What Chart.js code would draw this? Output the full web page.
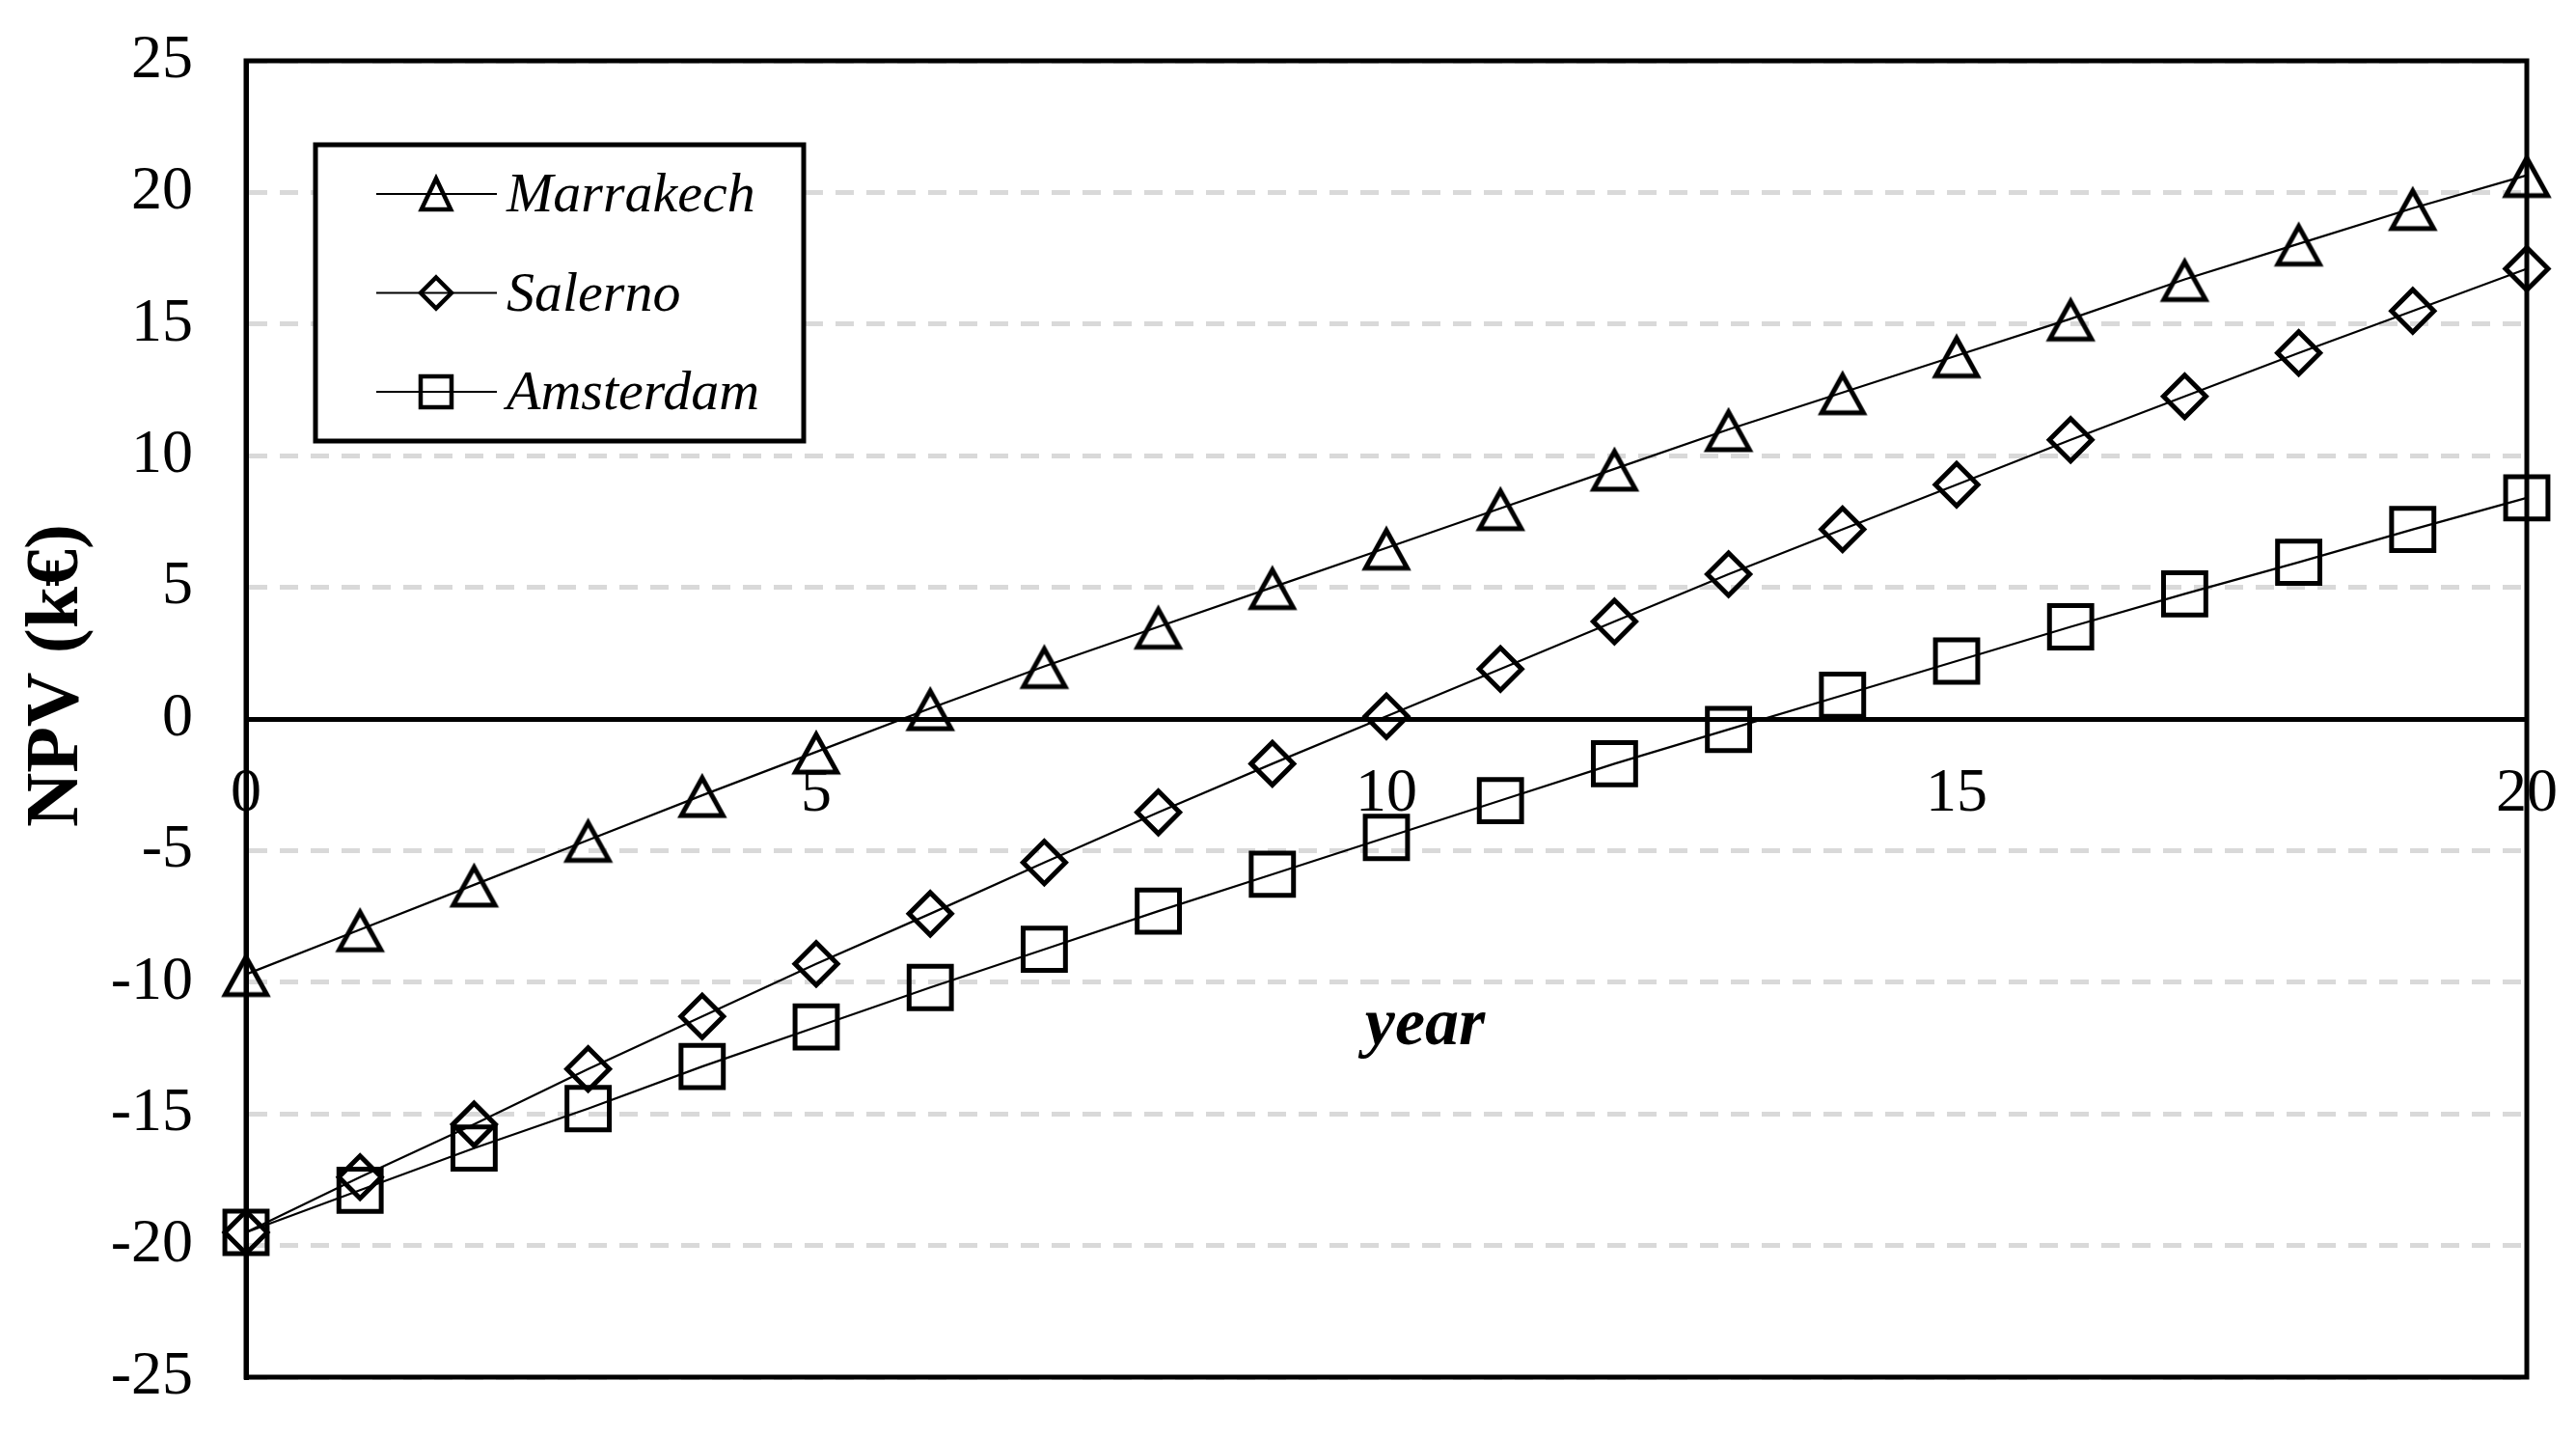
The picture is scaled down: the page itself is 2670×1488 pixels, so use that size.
<!DOCTYPE html>
<html>
<head>
<meta charset="utf-8">
<script src="https://cdn.jsdelivr.net/npm/chart.js@4.4.1/dist/chart.umd.min.js"></script>
<style>
  html, body { margin: 0; padding: 0; background: #fff; }
  #wrap { width: 2670px; height: 1488px; }
</style>
</head>
<body>
<div id="wrap"><canvas id="npvChart"></canvas></div>
<script>
// ===== DATA =====
const years = [0, 1, 2, 3, 4, 5, 6, 7, 8, 9, 10, 11, 12, 13, 14, 15, 16, 17, 18, 19, 20];
const marrakech = [-9.7, -8.0, -6.3, -4.6, -2.9, -1.25, 0.4, 2.0, 3.5, 5.0, 6.5, 8.0, 9.5, 11.0, 12.4, 13.8, 15.2, 16.7, 18.05, 19.4, 20.65];
const salerno = [-19.5, -17.4, -15.4, -13.3, -11.3, -9.3, -7.4, -5.45, -3.55, -1.7, 0.1, 1.9, 3.7, 5.5, 7.2, 8.9, 10.6, 12.25, 13.9, 15.5, 17.1];
const amsterdam = [-19.5, -17.9, -16.3, -14.8, -13.2, -11.7, -10.2, -8.75, -7.3, -5.9, -4.5, -3.1, -1.7, -0.4, 0.9, 2.2, 3.5, 4.75, 5.95, 7.2, 8.4];
const seriesNames = ["Marrakech", "Salerno", "Amsterdam"];
const xTicks = { min: 0, max: 20, step: 5 };
const yTicks = { min: -25, max: 25, step: 5 };
const xTitle = "year";
const yTitle = "NPV (k€)";

const SERIF = "'Liberation Serif', 'Times New Roman', serif";
Chart.defaults.font.family = SERIF;
Chart.defaults.color = "#000";

const toPoints = (vals) => years.map((yr, i) => ({ x: yr, y: vals[i] }));

// open triangle centred on its bounding box (like Excel), used as pointStyle
function triangleImage(half, stroke) {
  const size = Math.ceil(half * 2 + stroke * 4);
  const c = document.createElement("canvas");
  c.width = size;
  c.height = size;
  const g = c.getContext("2d");
  const m = size / 2;
  g.strokeStyle = "#000";
  g.lineWidth = stroke;
  g.lineJoin = "miter";
  g.beginPath();
  g.moveTo(m, m - half * 0.82);
  g.lineTo(m + half * 0.98, m + half * 0.95);
  g.lineTo(m - half * 0.98, m + half * 0.95);
  g.closePath();
  g.stroke();
  return c;
}

function series(label, vals, pointStyle, radius) {
  return {
    label,
    data: toPoints(vals),
    borderColor: "#000",
    borderWidth: 2.2,
    tension: 0,
    pointStyle,
    pointRadius: radius,
    pointHoverRadius: radius,
    pointBorderWidth: 5,
    pointBorderColor: "#000",
    pointBackgroundColor: "rgba(0,0,0,0)",
    clip: false,
  };
}

// legend marker, drawn by hand (line through the marker like the original)
function drawMarker(ctx, style, x, y, s) {
  const h = s / 2;
  ctx.beginPath();
  if (style === "rectRot") {
    ctx.moveTo(x, y - h);
    ctx.lineTo(x + h, y);
    ctx.lineTo(x, y + h);
    ctx.lineTo(x - h, y);
    ctx.closePath();
  } else if (style === "rect") {
    ctx.rect(x - h, y - h, s, s);
  } else {
    ctx.moveTo(x, y - h);
    ctx.lineTo(x + h * 0.95, y + h);
    ctx.lineTo(x - h * 0.95, y + h);
    ctx.closePath();
  }
  ctx.stroke();
}

const frameAndText = {
  id: "frameAndText",
  beforeDatasetsDraw(chart) {
    const { ctx, chartArea: a } = chart;
    ctx.save();
    ctx.strokeStyle = "#000";
    ctx.lineWidth = 5;
    ctx.strokeRect(a.left, a.top, a.right - a.left, a.bottom - a.top);
    ctx.restore();
  },
  afterDatasetsDraw(chart) {
    const { ctx, chartArea: a } = chart;
    ctx.save();

    // legend box
    const bx = a.left + 72, by = a.top + 87, bw = 506, bh = 307;
    ctx.fillStyle = "#fff";
    ctx.fillRect(bx, by, bw, bh);
    ctx.strokeStyle = "#000";
    ctx.lineWidth = 5;
    ctx.strokeRect(bx, by, bw, bh);

    chart.data.datasets.forEach((ds, i) => {
      const ry = by + 51 + i * 102.5;
      ctx.strokeStyle = "#000";
      ctx.lineWidth = 2;
      ctx.beginPath();
      ctx.moveTo(bx + 63, ry);
      ctx.lineTo(bx + 188, ry);
      ctx.stroke();
      ctx.lineWidth = 4.5;
      drawMarker(ctx, ds.pointStyle, bx + 125, ry, 32);
      ctx.fillStyle = "#000";
      ctx.font = "italic 58px " + SERIF;
      ctx.textAlign = "left";
      ctx.textBaseline = "alphabetic";
      ctx.fillText(ds.label, bx + 198, ry + 18);
    });

    // axis titles
    ctx.fillStyle = "#000";
    ctx.font = "bold italic 70px " + SERIF;
    ctx.textAlign = "center";
    ctx.textBaseline = "alphabetic";
    ctx.fillText(xTitle, 1477, 1082);

    ctx.translate(60, 700);
    ctx.rotate(-Math.PI / 2);
    ctx.font = "bold 78px " + SERIF;
    ctx.textBaseline = "middle";
    ctx.fillText(yTitle, 0, 0);
    ctx.restore();
  },
};

new Chart(document.getElementById("npvChart"), {
  type: "line",
  data: {
    datasets: [
      series(seriesNames[0], marrakech, triangleImage(22, 5), 27),
      series(seriesNames[1], salerno, "rectRot", 22),
      series(seriesNames[2], amsterdam, "rect", 31),
    ],
  },
  options: {
    responsive: true,
    maintainAspectRatio: false,
    devicePixelRatio: 1,
    animation: false,
    layout: { padding: { left: 0, top: 63, right: 51, bottom: 61 } },
    plugins: {
      legend: { display: false },
      tooltip: { enabled: false },
    },
    scales: {
      x: {
        type: "linear",
        min: xTicks.min,
        max: xTicks.max,
        position: { y: 0 },
        ticks: {
          stepSize: xTicks.step,
          font: { size: 64 },
          color: "#000",
          padding: 40,
          maxRotation: 0,
          autoSkip: false,
        },
        grid: { display: false, drawTicks: false },
        border: { display: true, color: "#000", width: 5 },
        afterFit: (s) => {
          s.paddingLeft = 0;
          s.paddingRight = 0;
        },
      },
      y: {
        min: yTicks.min,
        max: yTicks.max,
        ticks: {
          stepSize: yTicks.step,
          font: { size: 64 },
          color: "#000",
          padding: 55,
        },
        grid: {
          color: (c) => (c.tick && c.tick.value === 0 ? "rgba(0,0,0,0)" : "#d9d9d9"),
          lineWidth: 5,
          drawTicks: false,
        },
        border: { display: true, color: "#000", width: 5, dash: [19, 13] },
        afterFit: (s) => {
          s.width = 255;
          s.paddingTop = 0;
          s.paddingBottom = 0;
        },
      },
    },
  },
  plugins: [frameAndText],
});
</script>
</body>
</html>
